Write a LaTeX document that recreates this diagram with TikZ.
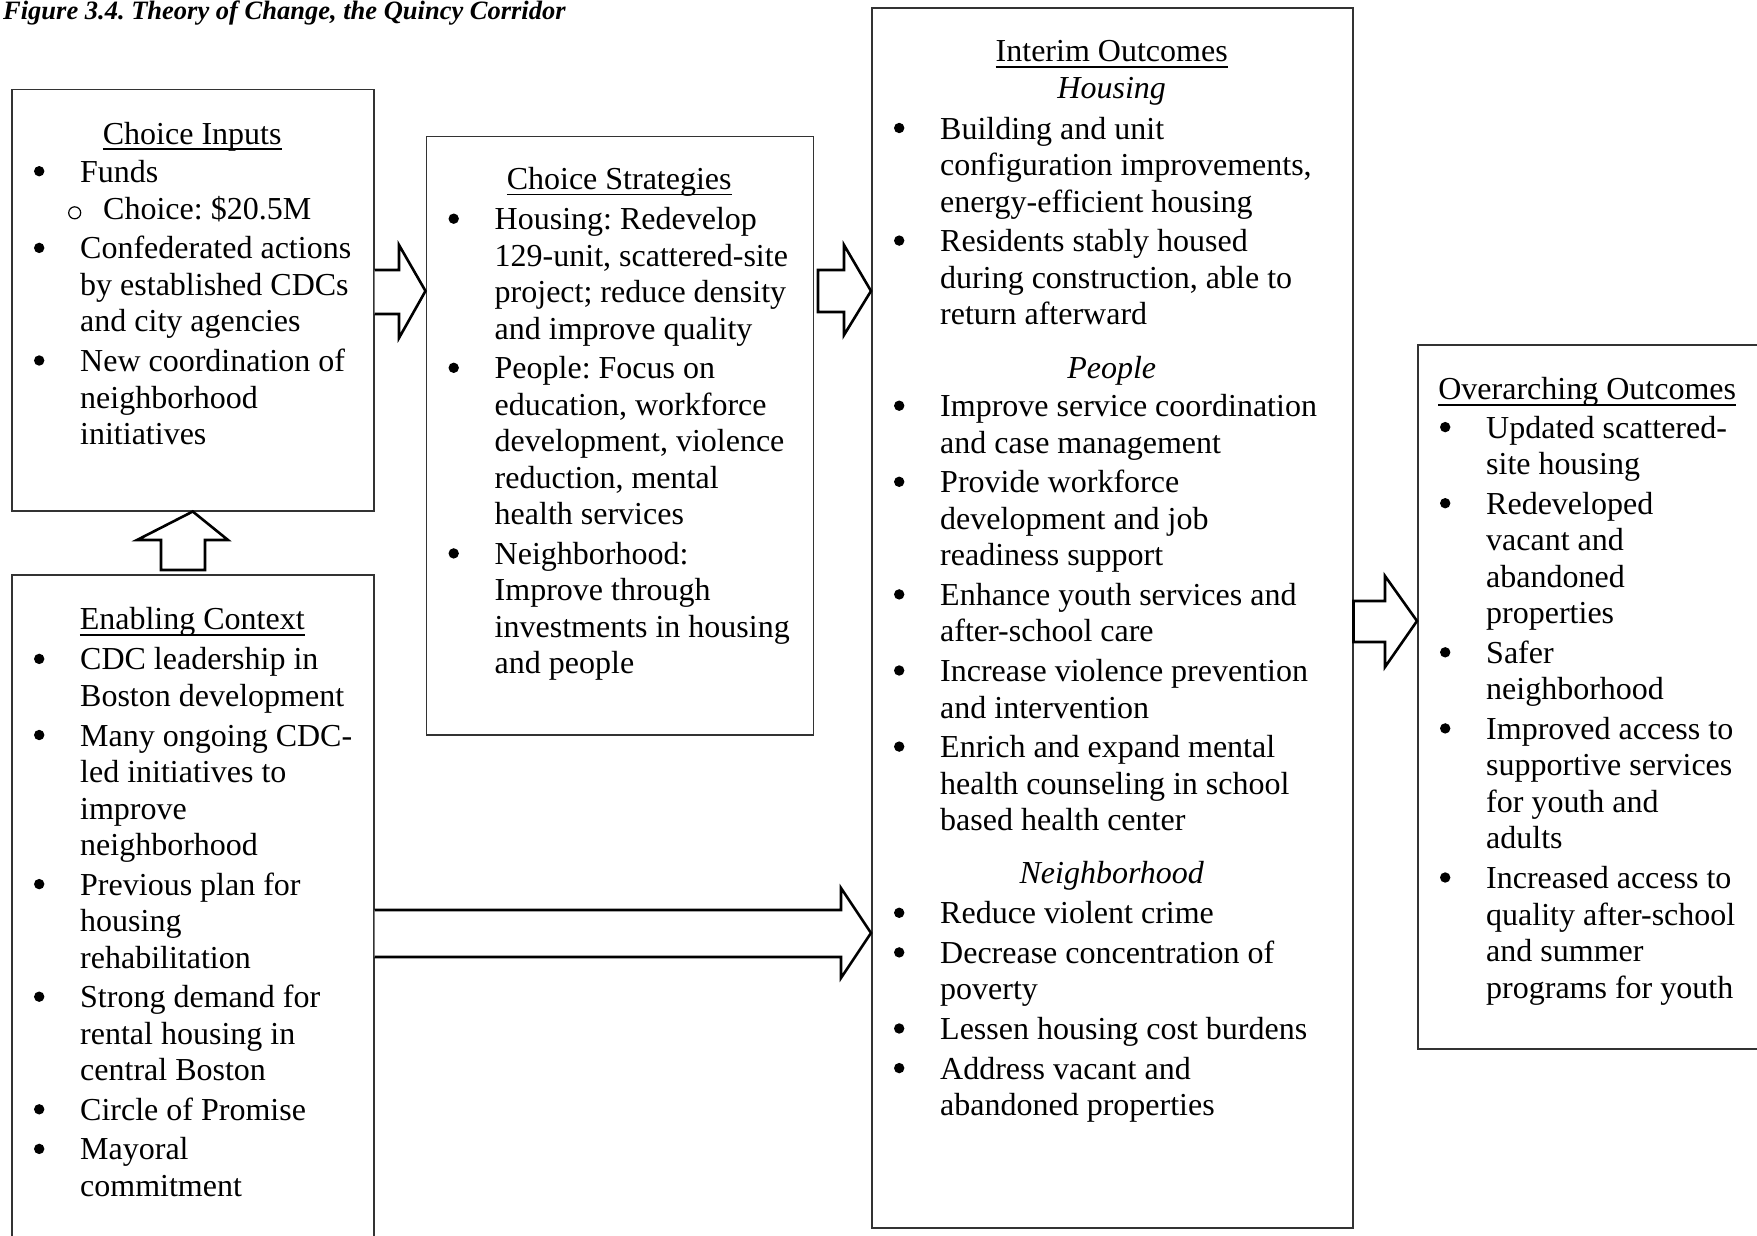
\documentclass[tikz,border=0pt]{standalone}
\usepackage{fontspec}
\setmainfont{Liberation Serif}
\usetikzlibrary{calc}
\frenchspacing

% underline that crosses the descenders, as a word processor draws it
\newcommand\myul[1]{\setbox0\hbox{#1}\rlap{\rule[-6pt]{\wd0}{1.8pt}}\box0}
% round list marks
\newcommand\dotmark{\tikz[baseline=0pt]\fill[black] (0pt,11pt) circle[radius=5.2pt];}
\newcommand\ringmark{\tikz[baseline=0pt]\draw[black, line width=1.2pt] (0pt,6.5pt) circle[radius=6pt];}
% bullet column: dot at 28pt, text starts at 69pt from the box edge
\newcommand\bul{\makebox[69pt][l]{\hspace*{28pt}\makebox[0pt]{\dotmark}}}
% heading centred over the whole box width
\newcommand\boxhead[2]{\multicolumn{2}{@{}l@{}}{\makebox[#1][c]{#2}}}

\tikzset{
  panel/.style={draw=black!80, line width=1.5pt, inner sep=0pt, anchor=north west},
  listtext/.style={inner sep=0pt, anchor=base west, font=\fontsize{32}{36.5}\selectfont},
  blockarrow/.style={draw=black, line width=2.6pt, fill=white, line join=miter},
}

\begin{document}
\begin{tikzpicture}[x=1pt, y=-1pt]
\useasboundingbox (0,0) rectangle (1757,1235);

% caption
\node[inner sep=0pt, anchor=base west, font=\fontsize{26.5}{30}\selectfont\bfseries\itshape]
  (caption) at (3,19) {Figure 3.4. Theory of Change, the Quincy Corridor};

% panels
\node[panel, minimum width=362pt, minimum height=421.5pt] (inputs) at (11,88.5) {};
\node[panel, minimum width=362pt, minimum height=690pt] (enabling) at (11,574) {};
\node[panel, minimum width=387pt, minimum height=598.5pt] (strategies) at (425.5,135.5) {};
\node[panel, minimum width=481pt, minimum height=1220pt] (interim) at (871,7) {};
\node[panel, minimum width=350pt, minimum height=704pt] (outcomes) at (1417,344) {};

% block arrows
\draw[blockarrow] (inputs.east |- 0,270) -- (399,270) -- (399,245)
  -- (strategies.west |- 0,291) -- (399,338) -- (399,314) -- (inputs.east |- 0,314);
\draw[blockarrow] ([xshift=4pt]strategies.east |- 0,270) -- (844,270) -- (844,245)
  -- (interim.west |- 0,291) -- (844,335) -- (844,312) -- ([xshift=4pt]strategies.east |- 0,312) -- cycle;
\draw[blockarrow] (interim.east |- 0,601) -- (1385,601) -- (1385,576)
  -- (outcomes.west |- 0,621) -- (1385,667) -- (1385,642) -- (interim.east |- 0,642) -- cycle;
\draw[blockarrow] ($(enabling.north -| 161,0)+(0,-4)$) -- (161,540) -- (137,540)
  -- (inputs.south) -- (228,540) -- (205,540) -- ($(enabling.north -| 205,0)+(0,-4)$) -- cycle;
\draw[blockarrow] (enabling.east |- 0,910) -- (841,910) -- (841,888)
  -- (interim.west |- 0,933) -- (841,978) -- (841,957) -- (enabling.east |- 0,957);

% Choice Inputs
\node[listtext] (inputsText) at (11,144) {\begin{tabular}[t]{@{}l@{}l@{}}
\boxhead{362pt}{\myul{Choice Inputs}}\\[1.7pt]
\bul & Funds\\[0.6pt]
\multicolumn{2}{@{}l@{}}{\hspace*{63.5pt}\makebox[0pt]{\ringmark}\hspace*{28.5pt}Choice: \$20.5M}\\[3.1pt]
\bul & Confederated actions\\
 & by established CDCs\\
 & and city agencies\\[3.1pt]
\bul & New coordination of\\
 & neighborhood\\
 & initiatives
\end{tabular}};

% Enabling Context
\node[listtext] (enablingText) at (11,629.5) {\begin{tabular}[t]{@{}l@{}l@{}}
\boxhead{362pt}{\myul{Enabling Context}}\\[3.9pt]
\bul & CDC leadership in\\
 & Boston development\\[3.1pt]
\bul & Many ongoing CDC-\\
 & led initiatives to\\
 & improve\\
 & neighborhood\\[3.1pt]
\bul & Previous plan for\\
 & housing\\
 & rehabilitation\\[3.1pt]
\bul & Strong demand for\\
 & rental housing in\\
 & central Boston\\[3.1pt]
\bul & Circle of Promise\\[3.1pt]
\bul & Mayoral\\
 & commitment
\end{tabular}};

% Choice Strategies
\node[listtext] (strategiesText) at (425.5,189.3) {\begin{tabular}[t]{@{}l@{}l@{}}
\boxhead{387pt}{\myul{Choice Strategies}}\\[3.9pt]
\bul & Housing: Redevelop\\
 & 129-unit, scattered-site\\
 & project; reduce density\\
 & and improve quality\\[3.1pt]
\bul & People: Focus on\\
 & education, workforce\\
 & development, violence\\
 & reduction, mental\\
 & health services\\[3.1pt]
\bul & Neighborhood:\\
 & Improve through\\
 & investments in housing\\
 & and people
\end{tabular}};

% Interim Outcomes
\node[listtext] (interimText) at (871,61.5) {\begin{tabular}[t]{@{}l@{}l@{}}
\boxhead{481pt}{\myul{Interim Outcomes}}\\[0.6pt]
\boxhead{481pt}{\itshape Housing}\\[3.9pt]
\bul & Building and unit\\
 & configuration improvements,\\
 & energy-efficient housing\\[3.1pt]
\bul & Residents stably housed\\
 & during construction, able to\\
 & return afterward\\[17.4pt]
\boxhead{481pt}{\itshape People}\\[1.7pt]
\bul & Improve service coordination\\
 & and case management\\[3.1pt]
\bul & Provide workforce\\
 & development and job\\
 & readiness support\\[3.1pt]
\bul & Enhance youth services and\\
 & after-school care\\[3.1pt]
\bul & Increase violence prevention\\
 & and intervention\\[3.1pt]
\bul & Enrich and expand mental\\
 & health counseling in school\\
 & based health center\\[16.3pt]
\boxhead{481pt}{\itshape Neighborhood}\\[3.9pt]
\bul & Reduce violent crime\\[3.1pt]
\bul & Decrease concentration of\\
 & poverty\\[3.1pt]
\bul & Lessen housing cost burdens\\[3.1pt]
\bul & Address vacant and\\
 & abandoned properties
\end{tabular}};

% Overarching Outcomes
\node[listtext] (outcomesText) at (1417,399.9) {\begin{tabular}[t]{@{}l@{}l@{}}
\boxhead{340pt}{\myul{Overarching Outcomes}}\\[1.7pt]
\bul & Updated scattered-\\
 & site housing\\[3.1pt]
\bul & Redeveloped\\
 & vacant and\\
 & abandoned\\
 & properties\\[3.1pt]
\bul & Safer\\
 & neighborhood\\[3.1pt]
\bul & Improved access to\\
 & supportive services\\
 & for youth and\\
 & adults\\[3.1pt]
\bul & Increased access to\\
 & quality after-school\\
 & and summer\\
 & programs for youth
\end{tabular}};

\end{tikzpicture}
\end{document}
